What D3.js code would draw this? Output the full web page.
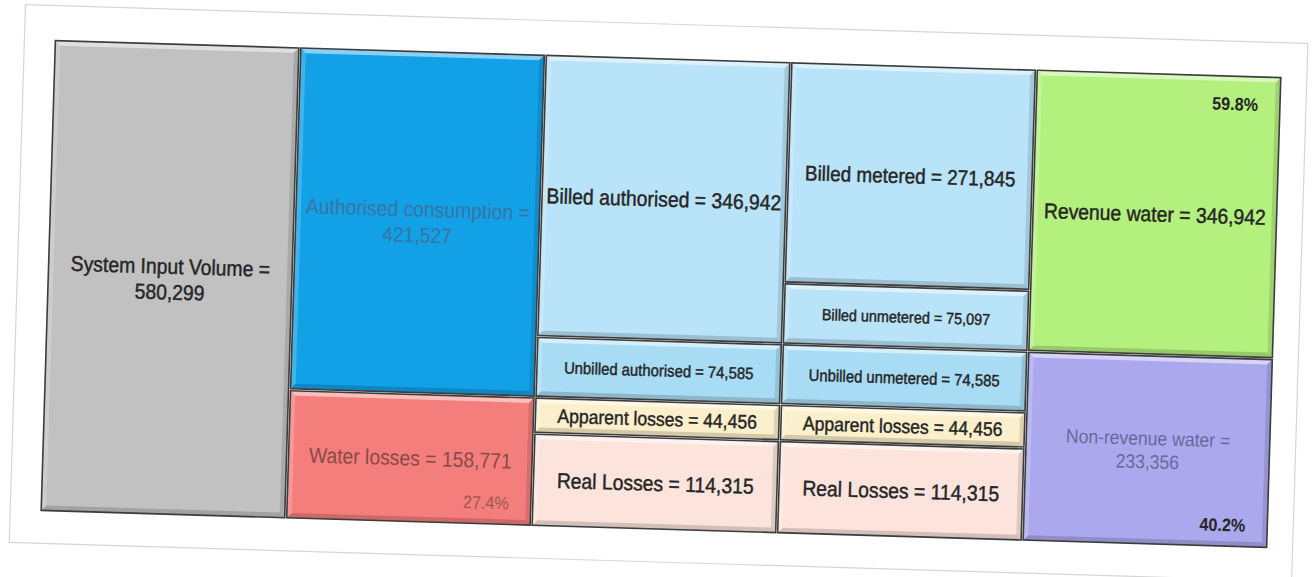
<!DOCTYPE html>
<html>
<head>
<meta charset="utf-8">
<script src="https://cdn.jsdelivr.net/npm/d3@7"></script>
<style>
  body { margin: 0; background: #fff; }
  svg { display: block; }
</style>
</head>
<body>
<div id="chart"></div>
<script>
////////////////////////////////////////////////
// data

var columnNames = ["input", "consumption", "authorised", "components", "revenue"];

var inputLabels = ["System Input Volume"];
var inputValues = [580299];

var consumptionLabels = ["Authorised consumption", "Water losses"];
var consumptionValues = [421527, 158771];

var authorisedLabels = ["Billed authorised", "Unbilled authorised", "Apparent losses", "Real Losses"];
var authorisedValues = [346942, 74585, 44456, 114315];

var componentLabels = ["Billed metered", "Billed unmetered", "Unbilled unmetered", "Apparent losses", "Real Losses"];
var componentValues = [271845, 75097, 74585, 44456, 114315];

var revenueLabels = ["Revenue water", "Non-revenue water"];
var revenueValues = [346942, 233356];

var percentShown = ["Water losses", "Revenue water", "Non-revenue water"];

////////////////////////////////////////////////
// styles

var styles = {
    "System Input Volume":   {fill: "#c1c1c1", ink: "#262626", size: 21.5, wrap: true},
    "Authorised consumption":{fill: "#12a0e7", ink: "#3a74a0", size: 21.5, wrap: true, faded: true},
    "Water losses":          {fill: "#f37e7b", ink: "#8a4a49", size: 21.5, faded: true},
    "Billed authorised":     {fill: "#b9e3f8", ink: "#262626", size: 21.5},
    "Unbilled authorised":   {fill: "#a8dcf4", ink: "#262626", size: 16.5},
    "Apparent losses":       {fill: "#fcefcb", ink: "#262626", size: 19.5},
    "Real Losses":           {fill: "#fce4dd", ink: "#262626", size: 21.5},
    "Billed metered":        {fill: "#b9e3f8", ink: "#262626", size: 21},
    "Billed unmetered":      {fill: "#b9e3f8", ink: "#262626", size: 16},
    "Unbilled unmetered":    {fill: "#a8dcf4", ink: "#262626", size: 16.5},
    "Revenue water":         {fill: "#b3f07e", ink: "#262626", size: 21.5},
    "Non-revenue water":     {fill: "#aba8ee", ink: "#6a6898", size: 19.5, wrap: true, faded: true}
};
var pctInk = {"Water losses": "#a05755", "Revenue water": "#262626", "Non-revenue water": "#262626"};

////////////////////////////////////////////////
// layout

var width = 1314, height = 577;
var W = 1228, H = 472;
var cx = 661, cy = 294, tilt = 1.73;
var squeeze = 0.9;
var bevel = 5;
var fontFamily = "'Liberation Sans', Arial, sans-serif";

var columns = [
    {labels: inputLabels, values: inputValues},
    {labels: consumptionLabels, values: consumptionValues},
    {labels: authorisedLabels, values: authorisedValues},
    {labels: componentLabels, values: componentValues},
    {labels: revenueLabels, values: revenueValues}
];

var total = d3.sum(inputValues);
var fmt = d3.format(",");
var pctFmt = d3.format(".1%");

var xScale = d3.scaleBand().domain(columnNames).range([0, W]).padding(0);
var yScale = d3.scaleLinear().domain([0, total]).range([0, H]);

var svg = d3.select("#chart")
    .append("svg")
    .attr("width", width)
    .attr("height", height);

var page = svg.append("g")
    .attr("transform", "translate(" + cx + "," + cy + ") rotate(" + tilt + ") translate(" + (-W / 2) + "," + (-H / 2) + ")");

// faint page frame
page.append("rect")
    .attr("x", -30).attr("y", -34)
    .attr("width", W + 55).attr("height", H + 66)
    .attr("fill", "none")
    .attr("stroke", "#d6d6d6")
    .attr("stroke-width", 1.2);

var boxes = [];
columns.forEach(function(col, ci) {
    var ends = d3.cumsum(col.values);
    col.values.forEach(function(v, i) {
        boxes.push({
            col: columnNames[ci],
            label: col.labels[i],
            value: v,
            y0: yScale(ends[i] - v),
            y1: yScale(ends[i]),
            first: i === 0,
            last: i === col.values.length - 1
        });
    });
});

var box = page.selectAll("g.box")
    .data(boxes)
    .enter()
    .append("g")
    .attr("class", "box");

function geom(d) {
    return {x: xScale(d.col) + 1, y: d.y0 + 1, w: xScale.bandwidth() - 2, h: d.y1 - d.y0 - 2};
}

box.append("rect")
    .attr("x", function(d) { return geom(d).x; })
    .attr("y", function(d) { return geom(d).y; })
    .attr("width", function(d) { return geom(d).w; })
    .attr("height", function(d) { return geom(d).h; })
    .attr("fill", function(d) { return styles[d.label].fill; });

// bevel edges
var edges = [
    {color: "#fff", op: 0.5, pts: function(g) { return [[g.x, g.y], [g.x + g.w, g.y], [g.x + g.w - bevel, g.y + bevel], [g.x + bevel, g.y + bevel]]; }},
    {color: "#fff", op: 0.2, pts: function(g) { return [[g.x, g.y], [g.x + bevel, g.y + bevel], [g.x + bevel, g.y + g.h - bevel], [g.x, g.y + g.h]]; }},
    {color: "#000", op: 0.12, pts: function(g) { return [[g.x + g.w, g.y], [g.x + g.w, g.y + g.h], [g.x + g.w - bevel, g.y + g.h - bevel], [g.x + g.w - bevel, g.y + bevel]]; }},
    {color: "#000", op: 0.16, pts: function(g) { return [[g.x, g.y + g.h], [g.x + g.w, g.y + g.h], [g.x + g.w - bevel, g.y + g.h - bevel], [g.x + bevel, g.y + g.h - bevel]]; }}
];

edges.forEach(function(e) {
    box.append("polygon")
        .attr("points", function(d) { return e.pts(geom(d)).map(function(p) { return p.join(","); }).join(" "); })
        .attr("fill", e.color)
        .attr("opacity", e.op);
});

box.append("rect")
    .attr("x", function(d) { return geom(d).x; })
    .attr("y", function(d) { return geom(d).y; })
    .attr("width", function(d) { return geom(d).w; })
    .attr("height", function(d) { return geom(d).h; })
    .attr("fill", "none")
    .attr("stroke", "#3c3c3c")
    .attr("stroke-width", 1.6);

// labels
box.append("text")
    .attr("transform", function(d) {
        var g = geom(d);
        return "translate(" + (g.x + g.w / 2) + "," + (g.y + g.h / 2) + ") scale(" + squeeze + ",1)";
    })
    .attr("text-anchor", "middle")
    .attr("font-family", fontFamily)
    .attr("font-size", function(d) { return styles[d.label].size; })
    .attr("fill", function(d) { return styles[d.label].ink; })
    .attr("stroke", function(d) { return styles[d.label].ink; })
    .attr("stroke-width", function(d) { return styles[d.label].faded ? 0 : 0.45; })
    .each(function(d) {
        var t = d3.select(this);
        var st = styles[d.label];
        if (st.wrap) {
            t.append("tspan").attr("x", 0).attr("y", -st.size * 0.6 + st.size * 0.35).text(d.label + " =");
            t.append("tspan").attr("x", 0).attr("y", st.size * 0.6 + st.size * 0.35).text(fmt(d.value));
        } else {
            t.append("tspan").attr("x", 0).attr("y", st.size * 0.35).text(d.label + " = " + fmt(d.value));
        }
    });

// percentages
box.filter(function(d) { return percentShown.indexOf(d.label) >= 0; })
    .append("text")
    .attr("transform", function(d) {
        var g = geom(d);
        var y = d.first && !d.last ? g.y + 34 : g.y + g.h - 15;
        return "translate(" + (g.x + g.w - 22) + "," + y + ") scale(" + squeeze + ",1)";
    })
    .attr("text-anchor", "end")
    .attr("font-family", fontFamily)
    .attr("font-size", 18)
    .attr("font-weight", function(d) { return d.label === "Water losses" ? "normal" : "bold"; })
    .attr("fill", function(d) { return pctInk[d.label]; })
    .text(function(d) { return pctFmt(d.value / total); });
</script>
</body>
</html>
